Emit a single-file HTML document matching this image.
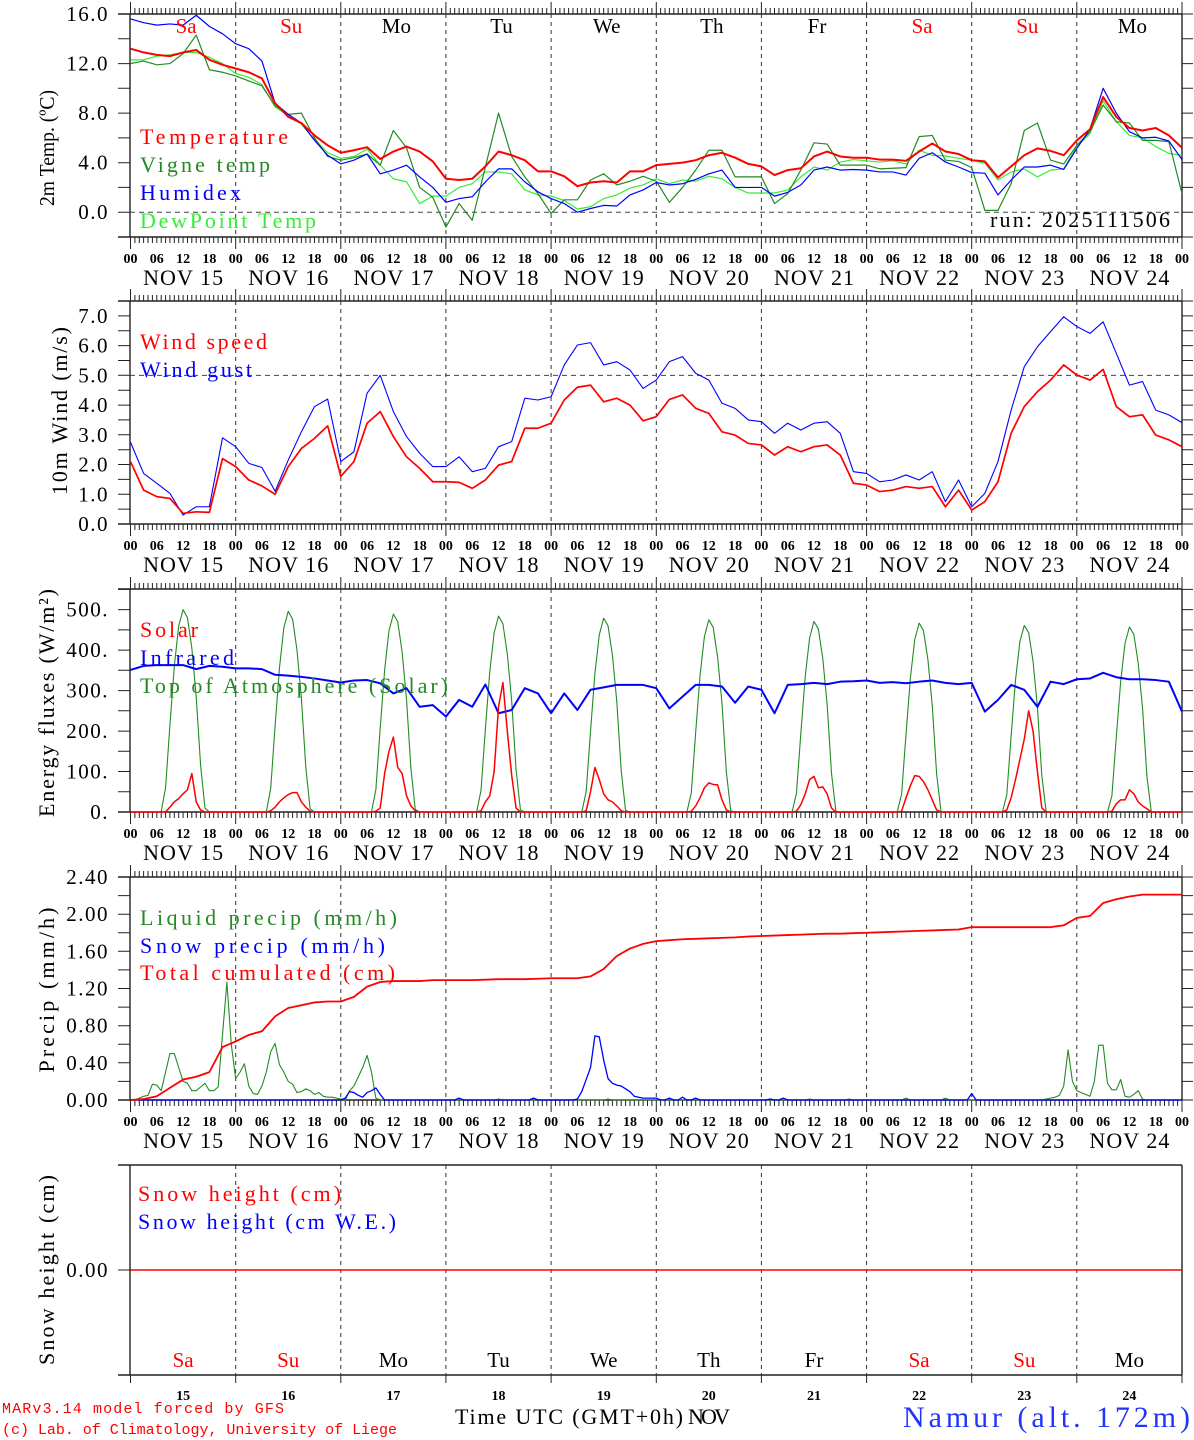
<!DOCTYPE html>
<html><head><meta charset="utf-8"><style>
html,body{margin:0;padding:0;background:#fff;}
svg{display:block;font-family:"Liberation Serif",serif;}
</style></head><body>
<svg id="chart" width="1194" height="1440" viewBox="0 0 1194 1440" xmlns="http://www.w3.org/2000/svg">
<g id="frames"></g>
<g id="series"></g>
<g id="texts">
<text x="990" y="227" font-size="22" textLength="180" lengthAdjust="spacing">run: 2025111506</text>
<text x="140" y="144" font-size="22" fill="#ff0000" textLength="148" lengthAdjust="spacing">Temperature</text>
<text x="140" y="172" font-size="22" fill="#228b22" textLength="130" lengthAdjust="spacing">Vigne temp</text>
<text x="140" y="200" font-size="22" fill="#0000ff" textLength="101" lengthAdjust="spacing">Humidex</text>
<text x="140" y="228" font-size="22" fill="#33ee33" textLength="176" lengthAdjust="spacing">DewPoint Temp</text>
<text x="140" y="349" font-size="22" fill="#ff0000" textLength="127" lengthAdjust="spacing">Wind speed</text>
<text x="140" y="377" font-size="22" fill="#0000ff" textLength="112" lengthAdjust="spacing">Wind gust</text>
<text x="140" y="637" font-size="22" fill="#ff0000" textLength="58" lengthAdjust="spacing">Solar</text>
<text x="140" y="665" font-size="22" fill="#0000ff" textLength="94" lengthAdjust="spacing">Infrared</text>
<text x="140" y="693" font-size="22" fill="#228b22" textLength="308" lengthAdjust="spacing">Top of Atmosphere (Solar)</text>
<text x="140" y="925" font-size="22" fill="#228b22" textLength="257" lengthAdjust="spacing">Liquid precip (mm/h)</text>
<text x="140" y="953" font-size="22" fill="#0000ff" textLength="245" lengthAdjust="spacing">Snow precip (mm/h)</text>
<text x="140" y="980" font-size="22" fill="#ff0000" textLength="255" lengthAdjust="spacing">Total cumulated (cm)</text>
<text x="138" y="1201" font-size="22" fill="#ff0000" textLength="203" lengthAdjust="spacing">Snow height (cm)</text>
<text x="138" y="1229" font-size="22" fill="#0000ff" textLength="258" lengthAdjust="spacing">Snow height (cm W.E.)</text>
<text transform="translate(54,148) rotate(-90)" text-anchor="middle" font-size="21" textLength="116" lengthAdjust="spacingAndGlyphs">2m Temp. (ºC)</text>
<text transform="translate(67,411) rotate(-90)" text-anchor="middle" font-size="22" textLength="168" lengthAdjust="spacing">10m Wind (m/s)</text>
<text transform="translate(54,703) rotate(-90)" text-anchor="middle" font-size="22" textLength="228" lengthAdjust="spacing">Energy fluxes (W/m²)</text>
<text transform="translate(54,990) rotate(-90)" text-anchor="middle" font-size="22" textLength="165" lengthAdjust="spacing">Precip (mm/h)</text>
<text transform="translate(54,1270) rotate(-90)" text-anchor="middle" font-size="22" textLength="190" lengthAdjust="spacing">Snow height (cm)</text>
<text x="2" y="1413" font-family="Liberation Mono, monospace" font-size="15" fill="#ff0000" textLength="282" lengthAdjust="spacing">MARv3.14 model forced by GFS</text>
<text x="2" y="1434" font-family="Liberation Mono, monospace" font-size="15" fill="#ff0000" textLength="395" lengthAdjust="spacing">(c) Lab. of Climatology, University of Liege</text>
<text x="455" y="1424" font-size="22" textLength="228" lengthAdjust="spacing">Time UTC (GMT+0h)</text>
<text x="688" y="1424" font-size="22" textLength="42" lengthAdjust="spacing">NOV</text>
<text x="903" y="1427" font-size="30" fill="#2233ff" textLength="287" lengthAdjust="spacing">Namur (alt. 172m)</text>
</g>
</svg>
<script>
// ---------- DATA ----------
const dayNums = [15,16,17,18,19,20,21,22,23,24];
const dayNames = ["Sa","Su","Mo","Tu","We","Th","Fr","Sa","Su","Mo"];
const hourLabels = ["00","06","12","18"];
const tempTicks = ["0.0","4.0","8.0","12.0","16.0"];
const windTicks = ["0.0","1.0","2.0","3.0","4.0","5.0","6.0","7.0"];
const energyTicks = ["0.","100.","200.","300.","400.","500."];
const precipTicks = ["0.00","0.40","0.80","1.20","1.60","2.00","2.40"];

// 3-hourly series
const temperature = [13.2,12.9,12.7,12.6,12.9,13.1,12.3,11.9, 11.6,11.3,10.8,8.8,7.7,7.2,6.2,5.4, 4.8,5.0,5.25,4.3,4.9,5.3,4.9,4.1, 2.7,2.6,2.7,3.7,4.9,4.6,4.2,3.3, 3.3,2.9,2.1,2.4,2.5,2.4,3.3,3.3, 3.8,3.9,4.0,4.2,4.6,4.8,4.4,3.9, 3.7,3.0,3.4,3.55,4.5,4.9,4.5,4.4, 4.4,4.25,4.25,4.15,4.9,5.55,4.9,4.7, 4.2,4.1,2.8,3.7,4.6,5.15,4.95,4.6, 5.8,6.7,9.3,7.7,6.8,6.6,6.8,6.2,5.2];
const humidex = [15.6,15.3,15.1,15.2,15.1,15.9,15.0,14.4, 13.6,13.2,12.2,8.8,7.9,7.2,5.8,4.6, 3.9,4.2,4.7,3.1,3.4,3.8,2.85,2.0, 0.8,1.1,1.25,2.45,3.5,3.5,2.45,1.65, 1.1,0.7,0.0,0.3,0.55,0.5,1.4,1.8, 2.4,2.2,2.3,2.65,3.1,3.4,2.0,2.0, 2.0,1.3,1.6,2.2,3.4,3.65,3.4,3.45, 3.4,3.25,3.25,3.0,4.35,4.8,4.05,3.65, 3.2,3.15,1.4,2.6,3.65,3.65,3.8,3.45, 5.15,6.7,10.0,8.0,6.5,6.0,6.05,5.75,4.25];
const vigneTemp = [12.0,12.2,11.9,12.0,12.8,14.3,11.5,11.3, 11.0,10.6,10.2,8.6,7.9,8.0,6.0,4.5, 4.2,4.4,4.7,3.8,6.6,5.2,2.0,1.2, -1.2,0.7,-0.65,3.65,8.0,4.5,2.85,1.5, -0.1,1.0,1.0,2.6,3.1,2.2,2.5,2.9, 2.5,0.8,2.0,3.4,5.0,5.0,2.85,2.85, 2.85,0.7,1.5,3.4,5.6,5.5,3.8,3.8, 3.8,3.5,3.55,3.6,6.1,6.2,4.2,4.1, 3.6,0.15,0.15,2.3,6.6,7.2,4.2,3.9, 5.4,6.5,8.65,7.3,7.2,5.8,5.8,5.7,1.5];
const dewPoint = [12.3,12.3,12.6,12.7,12.9,12.9,12.5,12.0, 11.2,10.9,10.3,8.5,7.8,7.1,5.9,4.8, 4.35,4.5,5.1,3.8,2.7,2.45,0.7,1.3, 1.3,2.0,2.3,3.25,3.25,3.1,1.8,1.4, 1.3,0.95,0.25,0.45,1.1,1.4,1.95,2.2, 2.7,2.3,2.6,2.5,2.9,2.7,2.0,1.55, 1.55,1.55,1.8,2.85,3.65,3.4,4.05,4.25, 4.15,4.05,4.15,3.9,5.0,4.6,4.55,4.35, 4.2,3.95,2.6,3.25,3.5,2.85,3.4,3.5, 5.3,6.35,9.0,7.3,6.2,6.0,5.3,4.75,4.6];
const windSpeed = [2.1,1.14,0.92,0.86,0.36,0.41,0.39,2.2, 1.93,1.48,1.28,1.0,1.93,2.54,2.88,3.3, 1.6,2.1,3.39,3.78,2.94,2.26,1.87,1.42, 1.42,1.4,1.2,1.48,1.98,2.1,3.22,3.22, 3.39,4.17,4.6,4.67,4.11,4.23,4.0,3.47, 3.61,4.19,4.34,3.89,3.72,3.1,2.99,2.71, 2.66,2.32,2.6,2.43,2.6,2.66,2.32,1.37, 1.31,1.09,1.14,1.26,1.2,1.26,0.58,1.14, 0.47,0.75,1.42,3.05,3.95,4.45,4.84,5.35, 5.01,4.84,5.2,3.95,3.61,3.67,2.99,2.83,2.6];
const windGust = [2.75,1.7,1.37,1.03,0.3,0.58,0.58,2.9, 2.6,2.04,1.9,1.1,2.15,3.1,3.95,4.2, 2.1,2.43,4.4,5.0,3.78,2.94,2.38,1.93, 1.93,2.26,1.76,1.87,2.6,2.77,4.23,4.17, 4.28,5.35,6.02,6.1,5.35,5.46,5.18,4.56, 4.84,5.46,5.63,5.07,4.84,4.06,3.89,3.5, 3.44,3.05,3.39,3.16,3.39,3.44,3.05,1.76, 1.7,1.42,1.48,1.65,1.48,1.76,0.75,1.48, 0.58,1.03,2.1,3.83,5.29,5.96,6.47,6.97, 6.64,6.41,6.8,5.74,4.67,4.79,3.83,3.67,3.41];
const infrared = [351,361,363,363,363,353,361,359, 355,355,353,339,337,334,330,325, 320,325,326,318,293,306,260,264, 236,277,260,315,244,252,306,293, 244,293,252,302,308,314,314,314, 306,256,285,314,314,310,270,310, 302,244,314,316,319,316,322,323, 325,319,321,318,322,325,319,316, 319,248,277,314,302,260,322,316, 328,330,344,333,328,328,326,322,248];
const totalCum = [0,0.01,0.04,0.13,0.22,0.25,0.3,0.57, 0.63,0.7,0.74,0.9,0.99,1.02,1.05,1.06, 1.06,1.11,1.22,1.27,1.28,1.28,1.28,1.29, 1.29,1.29,1.29,1.295,1.3,1.3,1.3,1.305, 1.31,1.31,1.31,1.33,1.41,1.55,1.63,1.68, 1.71,1.72,1.73,1.735,1.74,1.745,1.75,1.76, 1.765,1.77,1.775,1.78,1.785,1.79,1.79,1.795, 1.80,1.805,1.81,1.815,1.82,1.825,1.83,1.835, 1.86,1.86,1.86,1.86,1.86,1.86,1.86,1.88, 1.96,1.98,2.12,2.16,2.19,2.21,2.21,2.21,2.21];
const snowHeight = [0,0,0,0,0,0,0,0,0,0,0];

// daytime hourly (08h..17h) per day
const toaDay = [
[60,215,360,460,500,480,405,285,115,10],
[58,212,356,455,496,476,400,282,112,8],
[55,208,350,448,489,470,395,278,108,6],
[53,205,346,443,484,465,391,275,105,5],
[50,200,342,438,479,460,387,272,102,4],
[48,197,338,434,475,456,383,269,99,3],
[46,194,334,430,471,452,380,266,96,2],
[44,191,330,426,467,448,377,263,93,1],
[42,188,326,421,461,443,372,259,90,0],
[40,185,322,417,457,439,368,256,87,0]];
const solarDay = [
[0,12,25,33,45,55,95,25,5,0],
[3,12,25,35,43,48,48,25,12,2],
[2,10,95,150,185,110,95,40,15,3],
[3,25,40,100,260,320,200,91,10,0],
[3,50,110,80,45,30,25,15,3,0],
[2,15,35,60,72,68,67,30,5,0],
[2,18,45,80,88,60,62,45,10,0],
[2,35,65,90,88,75,55,30,5,0],
[5,35,80,130,180,250,200,100,10,0],
[2,20,30,30,55,45,25,15,8,0]];

// hourly precipitation per day (00h..23h)
const liquidDay = [
[0,0,0.02,0.04,0.05,0.17,0.16,0.1,0.3,0.5,0.5,0.35,0.2,0.18,0.1,0.1,0.14,0.18,0.1,0.1,0.14,0.7,1.27,0.6],
[0.23,0.3,0.39,0.15,0.07,0.06,0.15,0.3,0.52,0.61,0.38,0.3,0.2,0.17,0.08,0.09,0.12,0.1,0.06,0.08,0.04,0.03,0.03,0.02],
[0.01,0,0.1,0.15,0.25,0.35,0.48,0.3,0.02,0,0,0,0,0,0,0,0,0,0,0,0,0,0,0],
[0,0,0,0,0,0,0,0,0,0,0,0,0.01,0,0,0,0,0,0,0,0,0,0,0],
[0,0,0,0,0,0,0,0,0,0,0,0,0,0.01,0,0,0,0,0,0,0,0,0,0],
[0,0,0,0,0,0,0,0,0,0,0,0,0,0,0,0,0,0,0,0,0,0,0,0],
[0,0,0,0,0,0,0,0,0,0,0,0.01,0,0,0,0,0,0,0,0,0.01,0,0,0],
[0,0,0,0,0,0,0,0,0,0.02,0,0,0,0,0,0,0,0,0.02,0,0,0,0,0],
[0,0,0,0,0,0,0,0,0,0,0,0,0,0,0,0,0,0.01,0.02,0.03,0.05,0.15,0.54,0.2],
[0.1,0.08,0.06,0.04,0.2,0.59,0.59,0.18,0.11,0.11,0.22,0.04,0.03,0.06,0.1,0.01,0,0,0,0,0,0,0,0]];
const snowDay = [
[0,0,0,0,0,0,0,0,0,0,0,0,0,0,0,0,0,0,0,0,0,0,0,0],
[0,0,0,0,0,0,0,0,0,0,0,0,0,0,0,0,0,0,0,0,0,0,0,0],
[0,0.02,0.09,0.08,0.05,0.03,0.08,0.1,0.13,0.06,0,0,0,0,0,0,0,0,0,0,0,0,0,0],
[0,0,0,0.02,0,0,0,0,0,0,0,0,0,0,0,0,0,0,0,0,0.02,0,0,0],
[0,0,0,0,0,0,0.01,0.09,0.22,0.35,0.69,0.68,0.43,0.23,0.18,0.16,0.15,0.12,0.09,0.04,0.03,0.02,0.02,0.02],
[0.02,0,0,0.02,0,0,0.03,0,0,0.02,0,0,0,0,0,0,0,0,0,0,0,0,0,0],
[0,0,0.01,0,0,0.02,0,0,0,0,0,0,0,0,0,0,0,0,0,0,0,0,0,0],
[0,0,0,0,0,0,0,0,0,0,0,0,0,0,0,0,0,0,0,0,0,0,0,0],
[0.07,0,0,0,0,0,0,0,0,0,0,0,0,0,0,0,0,0,0,0,0,0,0,0],
[0,0,0,0,0,0,0,0,0,0,0,0,0,0,0,0,0,0,0,0,0,0,0,0]];

// ---------- LAYOUT ----------
const NS = "http://www.w3.org/2000/svg";
const X0 = 130.5, DW = 105.15, XR = 1182;
const panels = [
  {name:"temp", top:14, bottom:237, min:-2, max:16},
  {name:"wind", top:301, bottom:524, min:0, max:7.5},
  {name:"energy", top:589, bottom:812, min:0, max:551},
  {name:"precip", top:877, bottom:1100, min:0, max:2.4},
  {name:"snow", top:1165, bottom:1375, min:-1, max:1}
];
function xh(h){ return X0 + h*DW/24; }
function ys(p,v){ return p.bottom - (v-p.min)/(p.max-p.min)*(p.bottom-p.top); }
function mk(tag, attrs, parent){
  const el = document.createElementNS(NS, tag);
  for (const k in attrs) el.setAttribute(k, attrs[k]);
  parent.appendChild(el);
  return el;
}
const frames = document.getElementById("frames");
const layer = document.getElementById("series");
const txt = document.getElementById("texts");

panels.forEach((p, pi) => {
  let d = `M118 ${p.top}H${XR}M118 ${p.bottom}H${XR}M130 ${p.top}V${p.bottom}M${XR} ${p.top}V${p.bottom}`;
  const fr = mk("path", {d:d, stroke:"#222", "stroke-width":1.4, fill:"none"}, frames);
  
  
  let t = "";
  if (pi < 4) {
    for (let h=0; h<=240; h++) {
      const x = xh(h).toFixed(1);
      const L = (h%24===0) ? 12 : 6;
      t += `M${x} ${p.bottom}v${L}M${x} ${p.top}v${-L}`;
    }
  } else {
    for (let dd=0; dd<=10; dd++) t += `M${xh(dd*24).toFixed(1)} ${p.bottom}v8`;
  }
  const tk = mk("path", {d:t, stroke:"#222", "stroke-width":1, fill:"none"}, frames);
  
  
  let g = "";
  for (let dd=1; dd<10; dd++) g += `M${xh(dd*24).toFixed(1)} ${p.top}V${p.bottom}`;
  const gl = mk("path", {d:g, stroke:"#333", "stroke-width":1, "stroke-dasharray":"4,4", fill:"none"}, frames);
  
  
  if (pi < 4) {
    for (let dd=0; dd<=10; dd++) {
      for (let k=0; k<4; k++) {
        if (dd===10 && k>0) break;
        const lb = mk("text", {x:xh(dd*24+k*6).toFixed(1), y:p.bottom+26, "text-anchor":"middle", "font-size":14, "font-weight":"bold"}, txt);
        lb.textContent = hourLabels[k];
        
        
      }
    }
    dayNums.forEach((n, dd) => {
      const lb = mk("text", {x:xh(dd*24+12).toFixed(1), y:p.bottom+48, "text-anchor":"middle", "font-size":22, textLength:80, lengthAdjust:"spacing"}, txt);
      lb.textContent = "NOV " + n;
      
      
    });
  }
});

function yTicks(p, majors, labels, minorStep){
  let d = "";
  for (let v=p.min; v<=p.max+1e-9; v+=minorStep) {
    const y = ys(p,v).toFixed(1);
    d += `M118 ${y}H130M${XR} ${y}h11`;
  }
  const tk = mk("path", {d:d, stroke:"#222", "stroke-width":1, fill:"none"}, frames);
  
  
  majors.forEach((v,i) => {
    const lb = mk("text", {x:109, y:(ys(p,v)+7).toFixed(1), "text-anchor":"end", "font-size":21, "letter-spacing":"1.5"}, txt);
    lb.textContent = labels[i];
    
    
  });
}
yTicks(panels[0], [0,4,8,12,16], tempTicks, 2);
yTicks(panels[1], [0,1,2,3,4,5,6,7], windTicks, 0.5);
yTicks(panels[2], [0,100,200,300,400,500], energyTicks, 50);
yTicks(panels[3], [0,0.4,0.8,1.2,1.6,2.0,2.4], precipTicks, 0.2);
{
  const p = panels[4];
  const tk = mk("path", {d:`M118 ${ys(p,0)}H130`, stroke:"#222", "stroke-width":1}, frames);
  
  
  const lb = mk("text", {x:109, y:ys(p,0)+7, "text-anchor":"end", "font-size":21, "letter-spacing":"1.5"}, txt);
  lb.textContent = "0.00";
  
  
}

{
  const h1 = mk("path", {d:`M130 ${ys(panels[0],0)}H${XR}`, stroke:"#444", "stroke-dasharray":"5,4", "stroke-width":1}, frames);
  
  
  const h2 = mk("path", {d:`M130 ${ys(panels[1],5)}H${XR}`, stroke:"#444", "stroke-dasharray":"5,4", "stroke-width":1}, frames);
  
  
}

dayNames.forEach((n, dd) => {
  const col = (n==="Sa"||n==="Su") ? "#ff0000" : "#000";
  const a = mk("text", {x:(xh(dd*24+12)+3).toFixed(1), y:33, "text-anchor":"middle", "font-size":21, fill:col}, txt);
  a.textContent = n;
  
  
  const b = mk("text", {x:xh(dd*24+12).toFixed(1), y:1367, "text-anchor":"middle", "font-size":21, fill:col}, txt);
  b.textContent = n;
  
  
  const c = mk("text", {x:xh(dd*24+12).toFixed(1), y:1400, "text-anchor":"middle", "font-size":14, "font-weight":"bold"}, txt);
  c.textContent = String(dayNums[dd]);
  
  
});

function linePath(p, vals, step){
  return vals.map((v,i) => (i?"L":"M") + xh(i*step).toFixed(2) + " " + ys(p,v).toFixed(2)).join("");
}
function daytimeHourly(days){
  const out = [];
  for (let dd=0; dd<10; dd++) for (let h=0; h<24; h++) out.push(h>=8 && h<=17 ? days[dd][h-8] : 0);
  out.push(0);
  return out;
}
function fullHourly(days){
  const out = [];
  days.forEach(d => d.forEach(v => out.push(v)));
  out.push(0);
  return out;
}
function draw(p, vals, step, color, w, name){
  const el = mk("path", {d:linePath(p, vals, step), stroke:color, "stroke-width":w, fill:"none", "stroke-linejoin":"round"}, layer);
  
  
}
const P = panels;
draw(P[0], dewPoint, 3, "#33ee33", 1.2, "dewpoint-line");
draw(P[0], vigneTemp, 3, "#228b22", 1.2, "vigne-temp-line");
draw(P[0], humidex, 3, "#0000ff", 1.2, "humidex-line");
draw(P[0], temperature, 3, "#ff0000", 2, "temperature-line");
draw(P[1], windGust, 3, "#0000ff", 1.1, "wind-gust-line");
draw(P[1], windSpeed, 3, "#ff0000", 1.7, "wind-speed-line");
draw(P[2], daytimeHourly(toaDay), 1, "#228b22", 1.1, "toa-solar-line");
draw(P[2], infrared, 3, "#0000ff", 2, "infrared-line");
draw(P[2], daytimeHourly(solarDay), 1, "#ff0000", 1.5, "solar-line");
draw(P[3], fullHourly(liquidDay), 1, "#228b22", 1.1, "liquid-precip-line");
draw(P[3], fullHourly(snowDay), 1, "#0000ff", 1.3, "snow-precip-line");
draw(P[3], totalCum, 3, "#ff0000", 1.8, "total-cumulated-line");
draw(P[4], snowHeight, 24, "#ff0000", 1.6, "snow-height-line");
</script>
</body></html>
